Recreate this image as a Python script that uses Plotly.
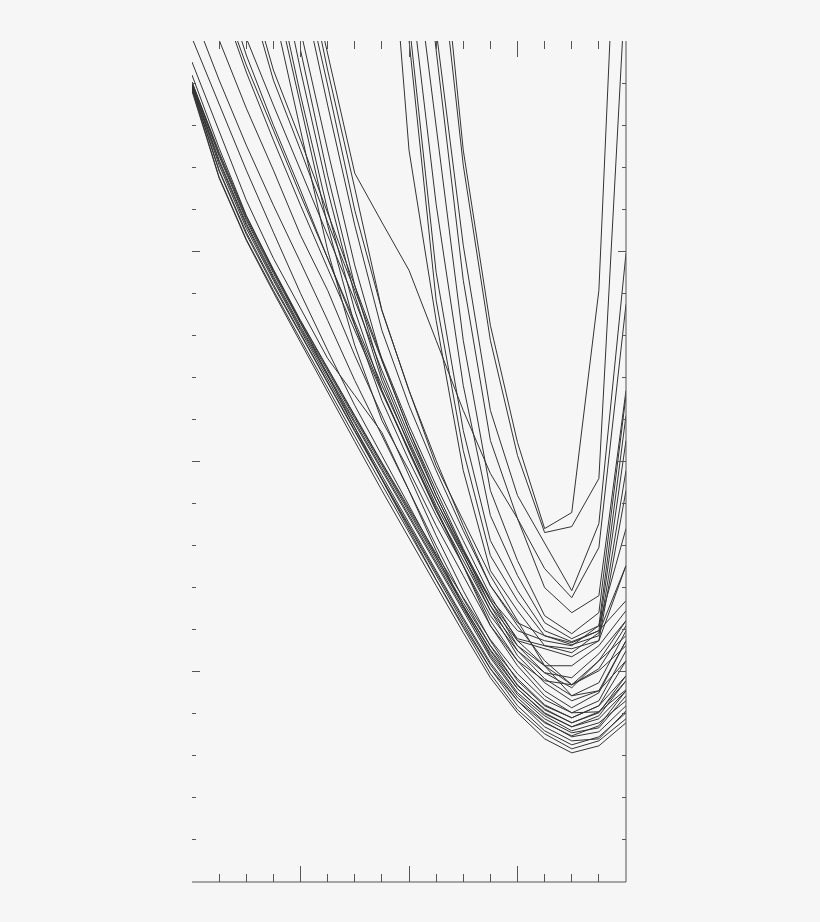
import plotly.graph_objects as go

# Unlabelled chart: y is in arbitrary height units (0-840), x is a step index (0-16).
# Each series lists its values up to the last step; leading steps lie far off the top of the chart.
c01 = [790,703,641,589,539,489,440,391,343,296,249,204,169,143,129,136,159]
c02 = [792,704,642,591,542,493,445,397,349,302,254,208,172,148,133,141,163]
c03 = [793,710,647,595,547,498,450,402,354,307,259,213,176,151,137,145,169]
c04 = [794,711,649,597,548,499,451,403,356,309,262,217,181,155,141,143,171]
c05 = [795,716,653,601,551,502,454,406,358,311,264,219,184,160,145,150,176]
c06 = [796,719,656,603,553,505,458,411,364,317,270,224,187,163,149,154,186]
c07 = [797,721,658,605,555,507,460,413,366,320,273,228,193,168,155,163,191]
c08 = [798,725,661,608,558,510,463,416,369,322,276,232,197,172,159,170,201]
c09 = [799,727,663,610,560,512,465,418,371,325,279,236,203,177,164,176,206]
c10 = [799,729,665,612,561,513,466,419,373,328,284,242,208,182,169,170,192]
m1 = [819,751,681,623,573,523,486,449,391,331,275,226,189,166,151,159,181]
m2 = [806,733,666,611,559,506,454,402,352,302,256,213,181,159,146,156,191]
n1 = [843,776,711,649,588,531,476,426,376,326,276,231,193,169,155,166,201]
o1 = [871,801,736,676,619,561,501,446,391,336,283,236,196,173,159,169,206]
p1 = [841,773,711,646,591,526,466,406,346,291,241,201,176,164,176,221]
q1 = [891,816,751,686,623,556,491,431,371,316,256,216,186,169,181,231]
q2 = [886,809,741,676,613,551,489,431,373,316,261,221,191,174,189,241]
q3 = [911,826,756,691,623,559,496,438,381,326,271,226,199,181,191,241]
q4 = [931,843,776,711,646,581,511,446,386,331,276,231,203,186,199,251]
q5 = [896,801,731,659,591,521,451,391,333,281,236,209,194,221,261]
q6 = [906,811,741,669,596,523,456,396,341,286,241,216,197,211,236]
r1 = [981,873,751,631,536,461,411,356,306,256,221,201,197,213,256]
r2 = [896,776,656,556,481,421,366,316,266,231,209,204,228,261]
r3 = [911,786,671,571,491,429,371,321,271,236,216,216,236,271]
r4 = [941,811,691,586,501,436,376,326,276,241,233,225,241,316]
r5 = [831,706,596,506,441,381,329,281,243,236,229,249,316]
r6 = [851,731,616,521,451,386,331,283,251,241,236,256,353]
r7 = [901,776,656,551,476,411,351,296,259,246,239,251,281]
r8 = [916,796,671,571,491,421,356,296,256,221,197,221,246]
r9 = [941,811,693,571,491,416,361,306,261,216,186,191,221]
k1 = [947,828,708,659,611,541,471,408,363,313,284,334,577]
a1 = [1001,731,556,439,353,369,591,1205]
b1 = [961,716,541,426,349,355,403,906]
c1 = [1101,851,636,471,386,339,291,358,628]
d1 = [1071,831,601,441,363,294,269,286,491]
e1 = [969,753,541,391,321,266,248,269,486]
f1 = [906,677,496,366,306,259,243,256,466]
g1 = [860,609,451,341,291,251,240,251,441]
h1 = [841,581,431,326,281,246,237,246,411]
i1 = [1071,731,561,411,311,271,236,233,241,391]

series = [c01,c02,c03,c04,c05,c06,c07,c08,c09,c10,m1,m2,n1,o1,p1,q1,q2,q3,q4,q5,q6,
          r1,r2,r3,r4,r5,r6,r7,r8,r9,k1,a1,b1,c1,d1,e1,f1,g1,h1,i1]
LAST_STEP = 16

fig = go.Figure()
for s in series:
    start = LAST_STEP + 1 - len(s)
    fig.add_trace(go.Scatter(x=list(range(start, LAST_STEP + 1)), y=s, mode="lines",
                             line=dict(color="#333333", width=1), showlegend=False,
                             hoverinfo="skip"))

BG = "#f6f6f6"
TICK = "#555555"
axis_common = dict(showgrid=False, zeroline=False, showticklabels=False, showline=False,
                   mirror="ticks", ticks="inside", tickcolor=TICK, tickwidth=1)
fig.update_layout(
    width=820, height=922, margin=dict(l=192, r=194, t=41, b=40, pad=0),
    paper_bgcolor=BG, plot_bgcolor=BG, showlegend=False,
    xaxis=dict(range=[0, 16], tickmode="linear", tick0=0, dtick=4, ticklen=16,
               minor=dict(dtick=1, tick0=0, ticks="inside", ticklen=8, tickcolor=TICK, tickwidth=1, showgrid=False),
               **axis_common),
    yaxis=dict(range=[0, 840], tickmode="linear", tick0=0, dtick=210, ticklen=8,
               minor=dict(dtick=42, tick0=0, ticks="inside", ticklen=4, tickcolor=TICK, tickwidth=1, showgrid=False),
               **axis_common),
    shapes=[
        dict(type="line", xref="x domain", yref="y domain", x0=0, x1=1, y0=0, y1=0, line=dict(color=TICK, width=1)),
        dict(type="line", xref="x domain", yref="y domain", x0=1, x1=1, y0=0, y1=1, line=dict(color=TICK, width=1)),
    ],
)
fig.write_html("out.html", config={"displayModeBar": False},
               post_script="document.body.style.margin='0';document.body.style.background='%s';" % BG)
